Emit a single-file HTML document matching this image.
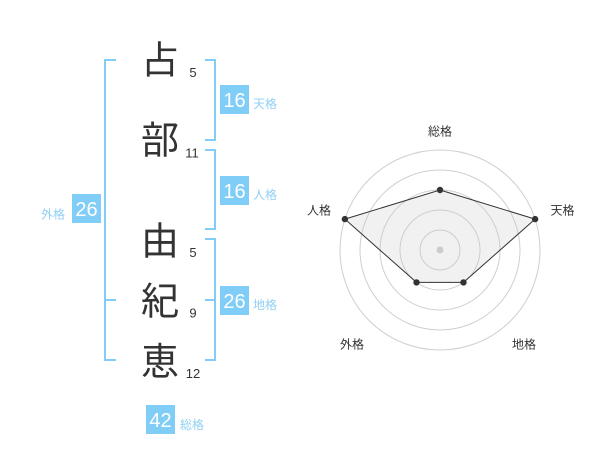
<!DOCTYPE html>
<html>
<head>
<meta charset="utf-8">
<style>
html,body{margin:0;padding:0;background:#fff;}
svg{display:block;}
.ch{font-family:"Liberation Sans","Noto Sans CJK JP",sans-serif;font-size:38px;fill:#333;text-anchor:middle;}
.num{font-family:"Liberation Sans",sans-serif;font-size:13px;fill:#333;text-anchor:middle;}
.bx{fill:#80cdf8;}
.bt{font-family:"Liberation Sans",sans-serif;font-size:20px;fill:#fff;text-anchor:middle;}
.lb{font-family:"Liberation Sans","Noto Sans CJK JP",sans-serif;font-size:12px;fill:#8fd0f5;}
.rl{font-family:"Liberation Sans","Noto Sans CJK JP",sans-serif;font-size:12px;fill:#333;text-anchor:middle;}
.br{fill:none;stroke:#82cdf7;stroke-width:2;}
.ring{fill:none;stroke:#cfcfcf;stroke-width:1;}
</style>
</head>
<body>
<svg width="600" height="470" viewBox="0 0 600 470" xmlns="http://www.w3.org/2000/svg">
  <!-- brackets -->
  <path class="br" d="M116,60 H105 V360 H116 M105,300 H116"/>
  <path class="br" d="M205,60 H215 V140 H205"/>
  <path class="br" d="M205,150 H215 V229 H205"/>
  <path class="br" d="M205,239 H215 V360 H205 M205,300 H215"/>

  <!-- characters -->
  <text class="ch" x="160" y="73.5">占</text>
  <text class="ch" x="160" y="153.5">部</text>
  <text class="ch" x="160" y="254.5">由</text>
  <text class="ch" x="160" y="314.5">紀</text>
  <text class="ch" x="160" y="375">恵</text>

  <text class="num" x="193" y="77">5</text>
  <text class="num" x="192" y="157.5">11</text>
  <text class="num" x="193" y="257">5</text>
  <text class="num" x="193" y="317.5">9</text>
  <text class="num" x="193" y="378">12</text>

  <!-- boxes -->
  <rect class="bx" x="220" y="85" width="29" height="29"/>
  <text class="bt" x="234.5" y="107">16</text>
  <text class="lb" x="253" y="108">天格</text>

  <rect class="bx" x="220" y="176" width="29" height="29"/>
  <text class="bt" x="234.5" y="198">16</text>
  <text class="lb" x="253" y="199">人格</text>

  <rect class="bx" x="220" y="286" width="29" height="29"/>
  <text class="bt" x="234.5" y="308">26</text>
  <text class="lb" x="253" y="309">地格</text>

  <rect class="bx" x="72" y="194" width="29" height="29"/>
  <text class="bt" x="86.5" y="216">26</text>
  <text class="lb" x="41" y="218.5">外格</text>

  <rect class="bx" x="146" y="405" width="29" height="29"/>
  <text class="bt" x="160.5" y="427">42</text>
  <text class="lb" x="180" y="429">総格</text>

  <!-- radar -->
  <circle class="ring" cx="440" cy="250" r="20"/>
  <circle class="ring" cx="440" cy="250" r="40"/>
  <circle class="ring" cx="440" cy="250" r="60"/>
  <circle class="ring" cx="440" cy="250" r="80"/>
  <circle class="ring" cx="440" cy="250" r="100"/>
  <polygon points="440,190 535.1,219.1 463.5,282.4 416.5,282.4 344.9,219.1" fill="rgba(200,200,200,0.25)" stroke="#333" stroke-width="1"/>
  <circle cx="440" cy="250" r="3.5" fill="#ccc"/>
  <circle cx="440" cy="190" r="3.2" fill="#333"/>
  <circle cx="535.1" cy="219.1" r="3.2" fill="#333"/>
  <circle cx="463.5" cy="282.4" r="3.2" fill="#333"/>
  <circle cx="416.5" cy="282.4" r="3.2" fill="#333"/>
  <circle cx="344.9" cy="219.1" r="3.2" fill="#333"/>

  <text class="rl" x="440" y="135.5">総格</text>
  <text class="rl" x="562.5" y="214.5">天格</text>
  <text class="rl" x="319" y="214.5">人格</text>
  <text class="rl" x="352" y="348.5">外格</text>
  <text class="rl" x="524" y="348.5">地格</text>
</svg>
</body>
</html>
